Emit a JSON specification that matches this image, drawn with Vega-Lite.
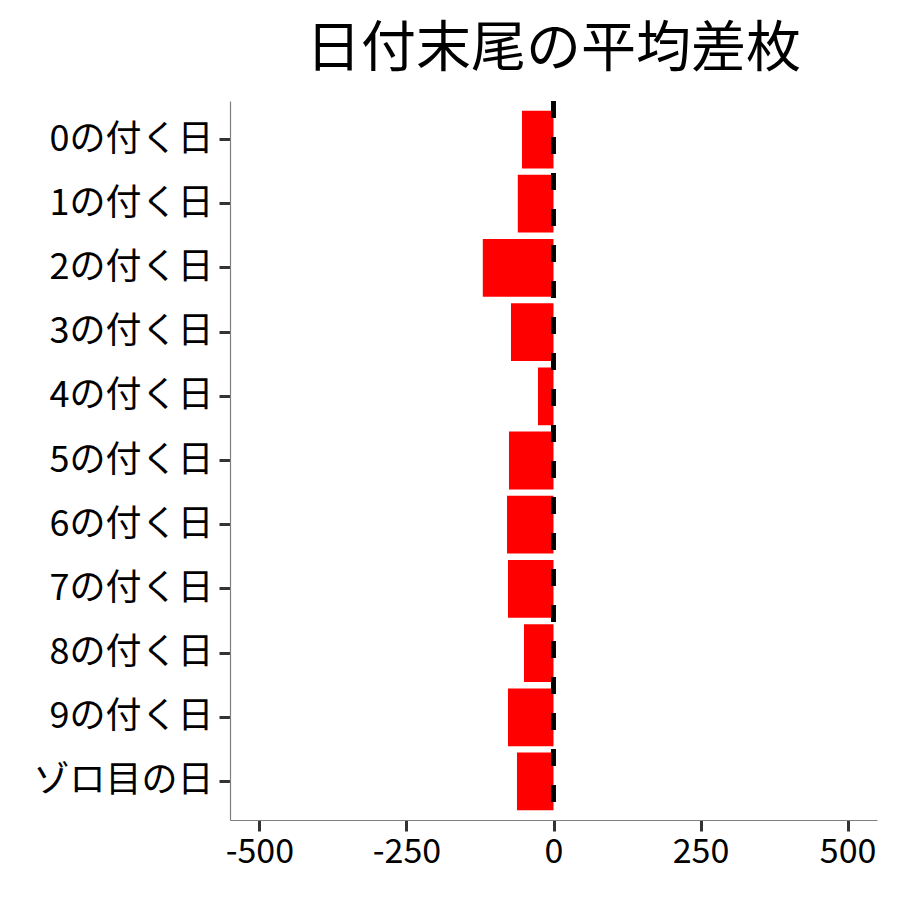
{
  "$schema": "https://vega.github.io/schema/vega-lite/v6.json",
  "width": 647,
  "height": 719,
  "autosize": {"type": "none"},
  "padding": {"left": 230, "top": 101, "right": 23, "bottom": 80},
  "background": "white",
  "title": {
    "text": "日付末尾の平均差枚",
    "font": "Noto Sans CJK JP",
    "fontSize": 55,
    "fontWeight": "normal",
    "color": "black",
    "anchor": "middle",
    "offset": 21
  },
  "config": {
    "view": {"stroke": null},
    "font": "Noto Sans CJK JP"
  },
  "data": {
    "values": [
      {"label": "0の付く日", "diff": -53.6},
      {"label": "1の付く日", "diff": -60.7},
      {"label": "2の付く日", "diff": -120.2},
      {"label": "3の付く日", "diff": -72.3},
      {"label": "4の付く日", "diff": -26.4},
      {"label": "5の付く日", "diff": -75.7},
      {"label": "6の付く日", "diff": -79.0},
      {"label": "7の付く日", "diff": -77.4},
      {"label": "8の付く日", "diff": -50.2},
      {"label": "9の付く日", "diff": -77.4},
      {"label": "ゾロ目の日", "diff": -62.1}
    ]
  },
  "layer": [
    {
      "mark": {"type": "bar", "color": "#FF0000"},
      "encoding": {
        "y": {
          "field": "label",
          "type": "nominal",
          "sort": null,
          "scale": {"paddingInner": 0.1, "paddingOuter": 0.15},
          "axis": {
            "title": null,
            "labelFont": "Noto Sans CJK JP",
            "labelFontSize": 36,
            "labelColor": "black",
            "labelPadding": 6,
            "labelLimit": 400,
            "tickSize": 11,
            "tickWidth": 3,
            "tickColor": "#333333",
            "domainColor": "#7f7f7f",
            "domainWidth": 1.2,
            "grid": false
          }
        },
        "x": {
          "field": "diff",
          "type": "quantitative",
          "scale": {"domain": [-550, 550], "nice": false, "zero": false},
          "axis": {
            "title": null,
            "values": [-500, -250, 0, 250, 500],
            "labelExpr": "replace(datum.label, '−', '-')",
            "labelFont": "Noto Sans CJK JP",
            "labelFontSize": 34,
            "labelColor": "black",
            "labelPadding": 4,
            "tickSize": 11,
            "tickWidth": 3,
            "tickColor": "#333333",
            "domainColor": "#7f7f7f",
            "domainWidth": 1.2,
            "grid": false,
            "labelFlush": false
          }
        }
      }
    },
    {
      "mark": {"type": "rule", "color": "black", "strokeWidth": 3.5, "strokeDash": [17, 19]},
      "encoding": {
        "x": {"datum": 0}
      }
    }
  ]
}
